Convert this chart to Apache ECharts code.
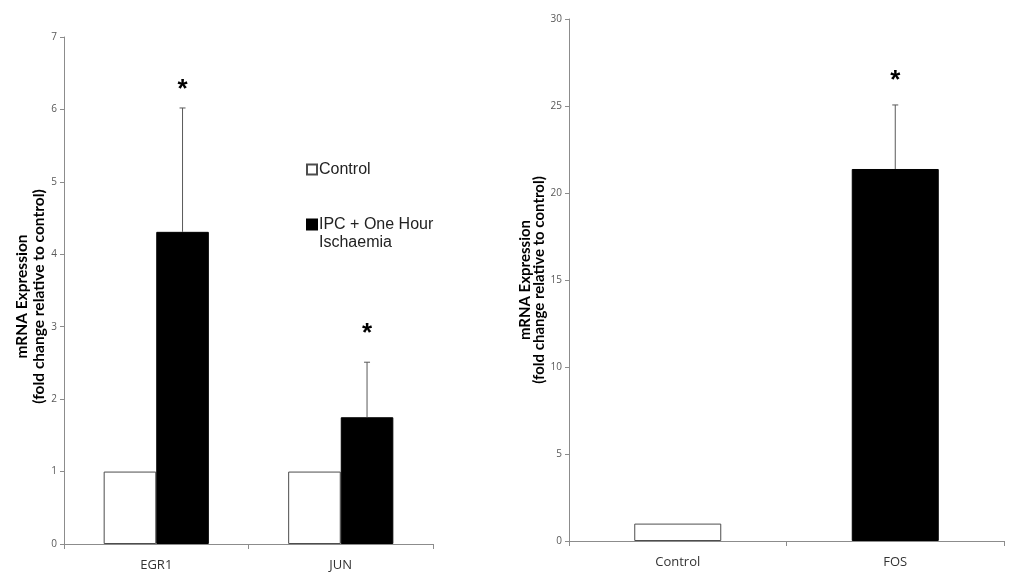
<!DOCTYPE html>
<html>
<head>
<meta charset="utf-8">
<script src="https://cdn.jsdelivr.net/npm/echarts@6/dist/echarts.min.js"></script>
<style>
html,body{margin:0;padding:0;background:#fff;}
#main{width:1012px;height:572px;}
</style>
</head>
<body>
<div id="main"></div>
<script>
// ---- data ----
const leftCategories = ['EGR1', 'JUN'];
const leftControl = [1, 1];
const leftIPC = [4.31, 1.75];
const leftIPCErrTop = [6.02, 2.51];
const leftSigMark = [6.32, 2.95];
const leftTicks = [0, 7, 1];

const rightCategories = ['Control', 'FOS'];
const rightValues = [1, 21.38];
const rightErrTop = [null, 25.06];
const rightSigMark = [null, 26.65];
const rightTicks = [0, 30, 5];

const seriesNames = ['Control', 'IPC + One Hour Ischaemia'];
const yTitle = 'mRNA Expression\n(fold change relative to control)';

// ---- styles ----
const axisColor = '#8c8c8c';
const tickLabelStyle = { color: '#595959', fontSize: 10, fontFamily: 'Open Sans' };
const catLabelStyle = { color: '#333', fontSize: 13, fontFamily: 'Open Sans' };
const whiteBar = { color: '#fff', borderColor: '#4d4d4d', borderWidth: 1 };
const blackBar = { color: '#000', borderColor: '#000', borderWidth: 1 };
const starSize = 26;

function errRender(offsetFrac) {
  return function (params, api) {
    const i = api.value(0), v = api.value(1), e = api.value(2), s = api.value(3);
    const band = api.size([1, 0])[0];
    const base = api.coord([i, v]);
    const top = api.coord([i, e]);
    const star = api.coord([i, s]);
    const x = base[0] + offsetFrac * band;
    return {
      type: 'group',
      children: [
        { type: 'line', shape: { x1: x, y1: base[1], x2: x, y2: top[1] }, style: { stroke: '#595959', lineWidth: 1 } },
        { type: 'line', shape: { x1: x - 3, y1: top[1], x2: x + 3, y2: top[1] }, style: { stroke: '#595959', lineWidth: 1 } },
        { type: 'text', x: x, y: star[1] + starSize * 0.15,
          style: { text: '*', fontSize: starSize, fontWeight: 'bold', fontFamily: 'Liberation Sans', align: 'center', verticalAlign: 'middle', fill: '#000' } }
      ]
    };
  };
}

function yAxisCfg(gridIndex, t, gap, fs, lh, pad) {
  return {
    type: 'value', gridIndex: gridIndex, min: t[0], max: t[1], interval: t[2],
    axisLine: { show: true, lineStyle: { color: axisColor } },
    axisTick: { show: true, length: 4, lineStyle: { color: axisColor } },
    axisLabel: Object.assign({ margin: 7 }, tickLabelStyle),
    splitLine: { show: false },
    name: yTitle, nameLocation: 'middle', nameRotate: 90, nameGap: gap,
    nameTextStyle: { fontFamily: 'Lato', fontWeight: 'bold', fontSize: fs, color: '#000', lineHeight: lh, padding: pad }
  };
}
function xAxisCfg(gridIndex, cats, margin) {
  return {
    type: 'category', gridIndex: gridIndex, data: cats,
    axisLine: { show: true, lineStyle: { color: axisColor } },
    axisTick: { show: true, length: 5, lineStyle: { color: axisColor } },
    axisLabel: Object.assign({ margin: margin }, catLabelStyle)
  };
}

const leftBarGapFrac = 0.43;
const leftBarFrac = (1 - leftBarGapFrac) / 2;

const option = {
  animation: false,
  backgroundColor: '#fff',
  grid: [
    { left: 64, right: 579, top: 37, bottom: 26 },
    { left: 569, right: 8, top: 19, bottom: 31 }
  ],
  xAxis: [xAxisCfg(0, leftCategories, 15), xAxisCfg(1, rightCategories, 15)],
  yAxis: [yAxisCfg(0, leftTicks, 13, 15.5, 17, [0, 12, 0, 0]), yAxisCfg(1, rightTicks, 21, 15, 14, 0)],
  legend: {
    orient: 'vertical', left: 301, top: 155.5, itemGap: 19,
    itemWidth: 10, itemHeight: 10, icon: 'rect', selectedMode: false,
    data: seriesNames,
    formatter: function (n) { return n === seriesNames[1] ? ' \nIPC + One Hour\nIschaemia' : n; },
    textStyle: { fontFamily: 'Liberation Sans', fontSize: 16, color: '#222', lineHeight: 18, padding: [0, 0, 0, -3] }
  },
  series: [
    { name: seriesNames[0], type: 'bar', xAxisIndex: 0, yAxisIndex: 0, data: leftControl,
      barGap: '0%', barCategoryGap: (leftBarGapFrac * 100) + '%', itemStyle: whiteBar },
    { name: seriesNames[1], type: 'bar', xAxisIndex: 0, yAxisIndex: 0, data: leftIPC, itemStyle: blackBar },
    { name: 'leftErr', type: 'custom', xAxisIndex: 0, yAxisIndex: 0,
      renderItem: errRender(leftBarFrac / 2),
      encode: { x: 0, y: [1, 2, 3] },
      data: leftIPC.map((v, i) => [i, v, leftIPCErrTop[i], leftSigMark[i]]), z: 5 },
    { name: 'rightBars', type: 'bar', xAxisIndex: 1, yAxisIndex: 1, barWidth: '40%',
      data: rightValues.map((v, i) => ({ value: v, itemStyle: i === 0 ? whiteBar : blackBar })) },
    { name: 'rightErr', type: 'custom', xAxisIndex: 1, yAxisIndex: 1,
      renderItem: errRender(0),
      encode: { x: 0, y: [1, 2, 3] },
      data: rightValues.map((v, i) => [i, v, rightErrTop[i], rightSigMark[i]]).filter(d => d[2] != null), z: 5 }
  ]
};

const chart = echarts.init(document.getElementById('main'), null, { renderer: 'canvas' });
chart.setOption(option);
</script>
</body>
</html>
